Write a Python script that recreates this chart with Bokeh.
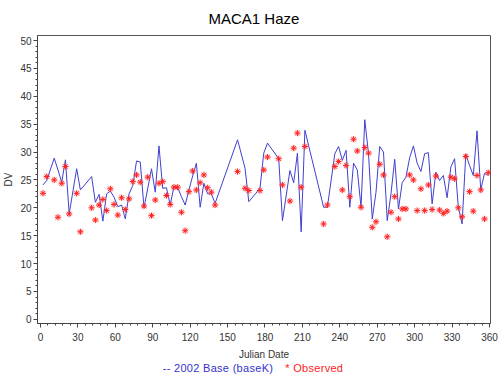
from bokeh.plotting import figure
from bokeh.models import Range1d, SingleIntervalTicker, Div
from bokeh.layouts import column
from bokeh.embed import file_html
from bokeh.resources import INLINE

# ---- data ----
base_days = [2, 5, 11, 14, 17, 20, 23, 29, 32, 41, 44, 47, 50, 53, 56, 59, 62, 65, 68, 71,
             74, 77, 80, 83, 86, 89, 92, 95, 98, 101, 104, 107, 110, 113, 116, 119, 122, 125,
             128, 131, 134, 137, 140, 158, 164, 167, 176, 179, 182, 191, 194, 200, 203, 206,
             209, 212, 227, 230, 236, 239, 242, 245, 248, 251, 254, 257, 260, 263, 266, 269,
             272, 275, 278, 281, 284, 287, 290, 293, 296, 299, 302, 305, 308, 311, 314, 317,
             320, 323, 326, 329, 332, 335, 338, 341, 344, 347, 350, 353, 356, 359]
base_dv = [24.1, 24.9, 28.9, 26.8, 24.6, 28.6, 18.9, 27.0, 23.2, 25.6, 21.0, 22.4, 17.6, 22.5,
           23.0, 21.9, 20.2, 20.5, 18.0, 22.5, 24.0, 28.4, 28.2, 20.0, 23.5, 27.0, 22.8, 31.1,
           23.5, 23.6, 20.5, 23.8, 23.6, 22.0, 20.5, 23.2, 25.7, 28.0, 20.1, 24.4, 22.5, 22.5,
           20.8, 32.2, 27.1, 21.1, 23.5, 29.8, 31.6, 28.8, 17.7, 26.7, 24.5, 29.8, 15.7, 33.9,
           20.1, 20.1, 29.7, 31.0, 28.5, 30.3, 20.1, 28.0, 26.8, 20.1, 35.8, 29.7, 18.0, 22.8,
           31.0, 30.0, 17.7, 22.5, 28.7, 19.8, 24.5, 25.5, 29.0, 31.1, 28.0, 26.5, 29.7, 29.9,
           20.7, 26.4, 24.9, 25.8, 21.8, 27.3, 28.8, 20.1, 17.1, 29.6, 27.6, 25.8, 33.8, 23.2,
           26.2, 25.8]

obs_days = [2, 5, 11, 14, 17, 20, 23, 29, 32, 41, 44, 47, 50, 53, 56, 59, 62, 65, 68, 71,
            74, 77, 80, 83, 86, 89, 92, 95, 98, 101, 104, 107, 110, 113, 116, 119, 122, 125,
            128, 131, 134, 137, 140, 158, 164, 167, 176, 179, 182, 191, 194, 200, 203, 206,
            209, 212, 227, 230, 236, 239, 242, 245, 248, 251, 254, 257, 260, 263, 266, 269,
            272, 275, 278, 281, 284, 287, 290, 293, 296, 299, 302, 305, 308, 311, 314, 317,
            320, 323, 326, 329, 332, 335, 338, 341, 344, 347, 350, 353, 356, 359]
obs_dv = [22.6, 25.6, 25.0, 18.3, 24.4, 27.4, 18.9, 22.6, 15.7, 20.0, 17.8, 20.5, 21.5, 19.5,
          23.4, 20.6, 18.7, 21.8, 19.7, 21.6, 24.7, 25.9, 24.6, 20.3, 25.5, 18.6, 21.4, 24.4,
          24.7, 22.2, 20.6, 23.7, 23.7, 19.2, 15.9, 22.9, 26.6, 23.2, 24.5, 25.9, 23.6, 22.8,
          20.5, 26.5, 23.5, 23.1, 23.1, 26.8, 29.1, 28.8, 24.1, 21.2, 30.7, 33.4, 23.7, 31.0,
          17.1, 20.5, 27.4, 28.3, 23.2, 27.6, 22.0, 32.3, 30.2, 20.1, 30.8, 29.8, 16.5, 17.5,
          27.8, 25.9, 14.8, 19.2, 22.0, 18.0, 19.8, 19.8, 25.9, 25.0, 19.5, 23.4, 19.5, 24.1,
          19.7, 25.7, 19.6, 19.0, 19.4, 25.5, 25.2, 20.0, 18.4, 29.2, 22.9, 19.4, 25.8, 23.2,
          18.0, 26.3]

title_text = "MACA1 Haze"
x_label = "Julian Date"
y_label = "DV"
legend_base = "-- 2002 Base (baseK)"
legend_obs = "* Observed"

FONT = "Liberation Sans"

p = figure(width=500, height=362, output_backend="svg", toolbar_location=None,
           x_range=Range1d(-2.4, 360.8), y_range=Range1d(-0.75, 50.9),
           min_border_left=36, min_border_right=10, min_border_top=35, min_border_bottom=39)
p.background_fill_color = "white"
p.border_fill_color = "white"
p.outline_line_color = "#555555"
p.grid.visible = False

p.title.text = title_text
p.title.text_font = FONT
p.title.text_font_size = "15px"
p.title.text_font_style = "normal"
p.title.text_color = "black"
p.title.align = "left"
p.title.offset = 171
p.title.vertical_align = "top"
p.title.standoff = 14

p.xaxis.ticker = SingleIntervalTicker(interval=30, num_minor_ticks=5)
p.yaxis.ticker = SingleIntervalTicker(interval=5, num_minor_ticks=5)
for ax in (p.xaxis, p.yaxis):
    ax.axis_line_color = "#444444"
    ax.major_tick_line_color = "#444444"
    ax.minor_tick_line_color = "#444444"
    ax.major_tick_out = 4
    ax.major_tick_in = 0
    ax.minor_tick_out = 2
    ax.minor_tick_in = 0
    ax.major_label_text_font = FONT
    ax.major_label_text_font_size = "10px"
    ax.major_label_text_color = "#333333"
    ax.axis_label_text_font = FONT
    ax.axis_label_text_font_size = "10px"
    ax.axis_label_text_font_style = "normal"
    ax.axis_label_text_color = "#333333"
p.xaxis.axis_label = x_label
p.yaxis.axis_label = y_label
p.xaxis.major_label_standoff = 5
p.xaxis.axis_label_standoff = 5
p.yaxis.major_label_standoff = 2
p.yaxis.axis_label_standoff = 3

p.line(base_days, base_dv, line_color="#4040d0", line_width=1)
p.scatter(obs_days, obs_dv, marker="circle", size=7, fill_color="#ff8080",
          fill_alpha=0.18, line_color=None)
p.scatter(obs_days, obs_dv, marker="asterisk", size=6, line_color="#ff2020",
          line_width=1)

legend = Div(
    text=('<span style="color:#3333cc">' + legend_base + '</span>'
          '<span style="display:inline-block;width:12px"></span>'
          '<span style="color:#ff2020">' + legend_obs + '</span>'),
    width=500, height=13, margin=0,
    styles={"text-align": "center", "font-family": FONT, "font-size": "11px",
            "letter-spacing": "0.3px", "line-height": "13px", "white-space": "nowrap",
            "width": "500px", "padding-left": "6px"})

layout = column(p, legend, spacing=0, margin=0)

open("out.html", "w").write(file_html(layout, INLINE))
